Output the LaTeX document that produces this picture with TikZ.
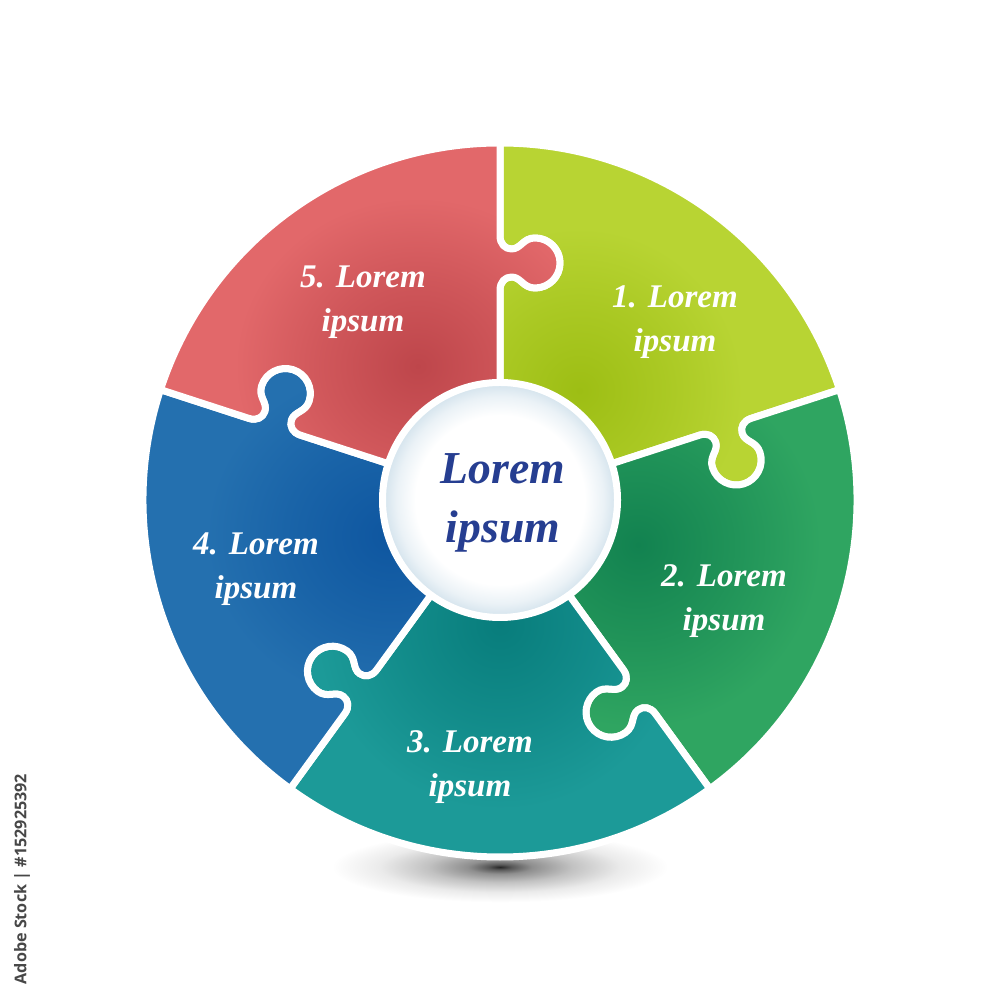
\documentclass[tikz,border=0pt]{standalone}
\usepackage{fontspec}
\setmainfont{Liberation Serif}
\newfontfamily\sidefont{Open Sans}

\definecolor{limeout}{RGB}{184,212,51}
\definecolor{limein}{RGB}{157,190,20}
\definecolor{greenout}{RGB}{47,165,97}
\definecolor{greenin}{RGB}{18,130,80}
\definecolor{tealout}{RGB}{28,154,152}
\definecolor{tealin}{RGB}{8,125,124}
\definecolor{blueout}{RGB}{36,112,175}
\definecolor{bluein}{RGB}{14,86,160}
\definecolor{redout}{RGB}{226,104,106}
\definecolor{redin}{RGB}{190,70,75}
\definecolor{hubtext}{RGB}{38,62,145}
\definecolor{hubedge}{RGB}{210,226,236}
\colorlet{glowin}{black}
\colorlet{glowout}{white}

\pgfdeclareradialshading{hubglow}{\pgfpointorigin}{
  color(0bp)=(white); color(18bp)=(white); color(22bp)=(hubedge!45); color(25bp)=(hubedge); color(50bp)=(hubedge)}
\pgfdeclareradialshading{floorshadow}{\pgfpointorigin}{
  color(0bp)=(black!85); color(1.5bp)=(black!65); color(4bp)=(black!44); color(9bp)=(black!24); color(15bp)=(black!8); color(21bp)=(white); color(50bp)=(white)}
\pgfdeclareradialshading[glowin,glowout]{pieceglow}{\pgfpointorigin}{
  color(0bp)=(glowin); color(9bp)=(glowin!50!glowout); color(17bp)=(glowout); color(50bp)=(glowout)}

% one puzzle piece, tab on its clockwise edge
\newcommand{\jigpath}{
  (90:1) {[rotate=90] -- (2.1,0)
    .. controls (2.18,0) and (2.23,-0.05) .. (2.23,-0.115)
    .. controls (2.23,-0.21) and (2.12,-0.23) .. (2.12,-0.35)
    .. controls (2.12,-0.488) and (2.232,-0.6) .. (2.37,-0.6)
    .. controls (2.508,-0.6) and (2.62,-0.488) .. (2.62,-0.35)
    .. controls (2.62,-0.23) and (2.51,-0.21) .. (2.51,-0.115)
    .. controls (2.51,-0.05) and (2.56,0) .. (2.64,0)
    -- (3.57,0)}
  arc[start angle=90,end angle=18,radius=3.57]
  {[rotate=18] -- (2.64,0)
    .. controls (2.56,0) and (2.51,-0.05) .. (2.51,-0.115)
    .. controls (2.51,-0.21) and (2.62,-0.23) .. (2.62,-0.35)
    .. controls (2.62,-0.488) and (2.508,-0.6) .. (2.37,-0.6)
    .. controls (2.232,-0.6) and (2.12,-0.488) .. (2.12,-0.35)
    .. controls (2.12,-0.23) and (2.23,-0.21) .. (2.23,-0.115)
    .. controls (2.23,-0.05) and (2.18,0) .. (2.1,0)
    -- (1,0)}
  -- cycle}

\begin{document}
\begin{tikzpicture}[
    piecelabel/.style={
      text=white,
      align=center,
      font=\fontsize{9.4}{12.5}\selectfont\bfseries\itshape
    },
    cut/.style={
      draw=white,
      line width=0.07cm,
      line join=round
    }
  ]

    \useasboundingbox (-5,-5) rectangle (5,5);

    % Shadow under the wheel
    \shade[shading=floorshadow] (0,-3.67) ellipse (2 and 0.42);

    % Five pieces: angle, outer colour, inner colour, glow distance
    \foreach \rot/\colout/\colin/\glow in {
        0/limeout/limein/1.35,
        -72/greenout/greenin/1.45,
        -144/tealout/tealin/1.25,
        -216/blueout/bluein/1.15,
        -288/redout/redin/1.4} {
      \begin{scope}[rotate=\rot]
        \colorlet{glowin}{\colin}
        \colorlet{glowout}{\colout}
        \begin{scope}
          \clip \jigpath;
          \fill[\colout] (-4,-4) rectangle (4,4);
          \shade[shading=pieceglow] (54:\glow) circle (2.4);
        \end{scope}
        \draw[cut] \jigpath;
      \end{scope}
    }

    % Centre disc
    \shade[shading=hubglow, draw=white, line width=0.07cm] (0,0) circle (1.175);
    \node (hub) [text=hubtext, align=center, font=\fontsize{13}{17}\selectfont\bfseries\itshape] at (0.03,-0.03) {Lorem\\ipsum};

    % Piece labels
    \node (one) [piecelabel] at (1.75,1.78) {1. Lorem\\ipsum};
    \node (two) [piecelabel] at (2.24,-1.01) {2. Lorem\\ipsum};
    \node (three) [piecelabel] at (-0.3,-2.67) {3. Lorem\\ipsum};
    \node (four) [piecelabel] at (-2.44,-0.69) {4. Lorem\\ipsum};
    \node (five) [piecelabel] at (-1.37,1.98) {5. Lorem\\ipsum};

    % Side number
    \node (stockid) [rotate=90, anchor=west, font=\sidefont\fontsize{4.6}{7}\selectfont\bfseries, text=black!72, inner sep=0pt] at (-4.78,-4.85) {Adobe Stock | \#152925392};

  \end{tikzpicture}
\end{document}
